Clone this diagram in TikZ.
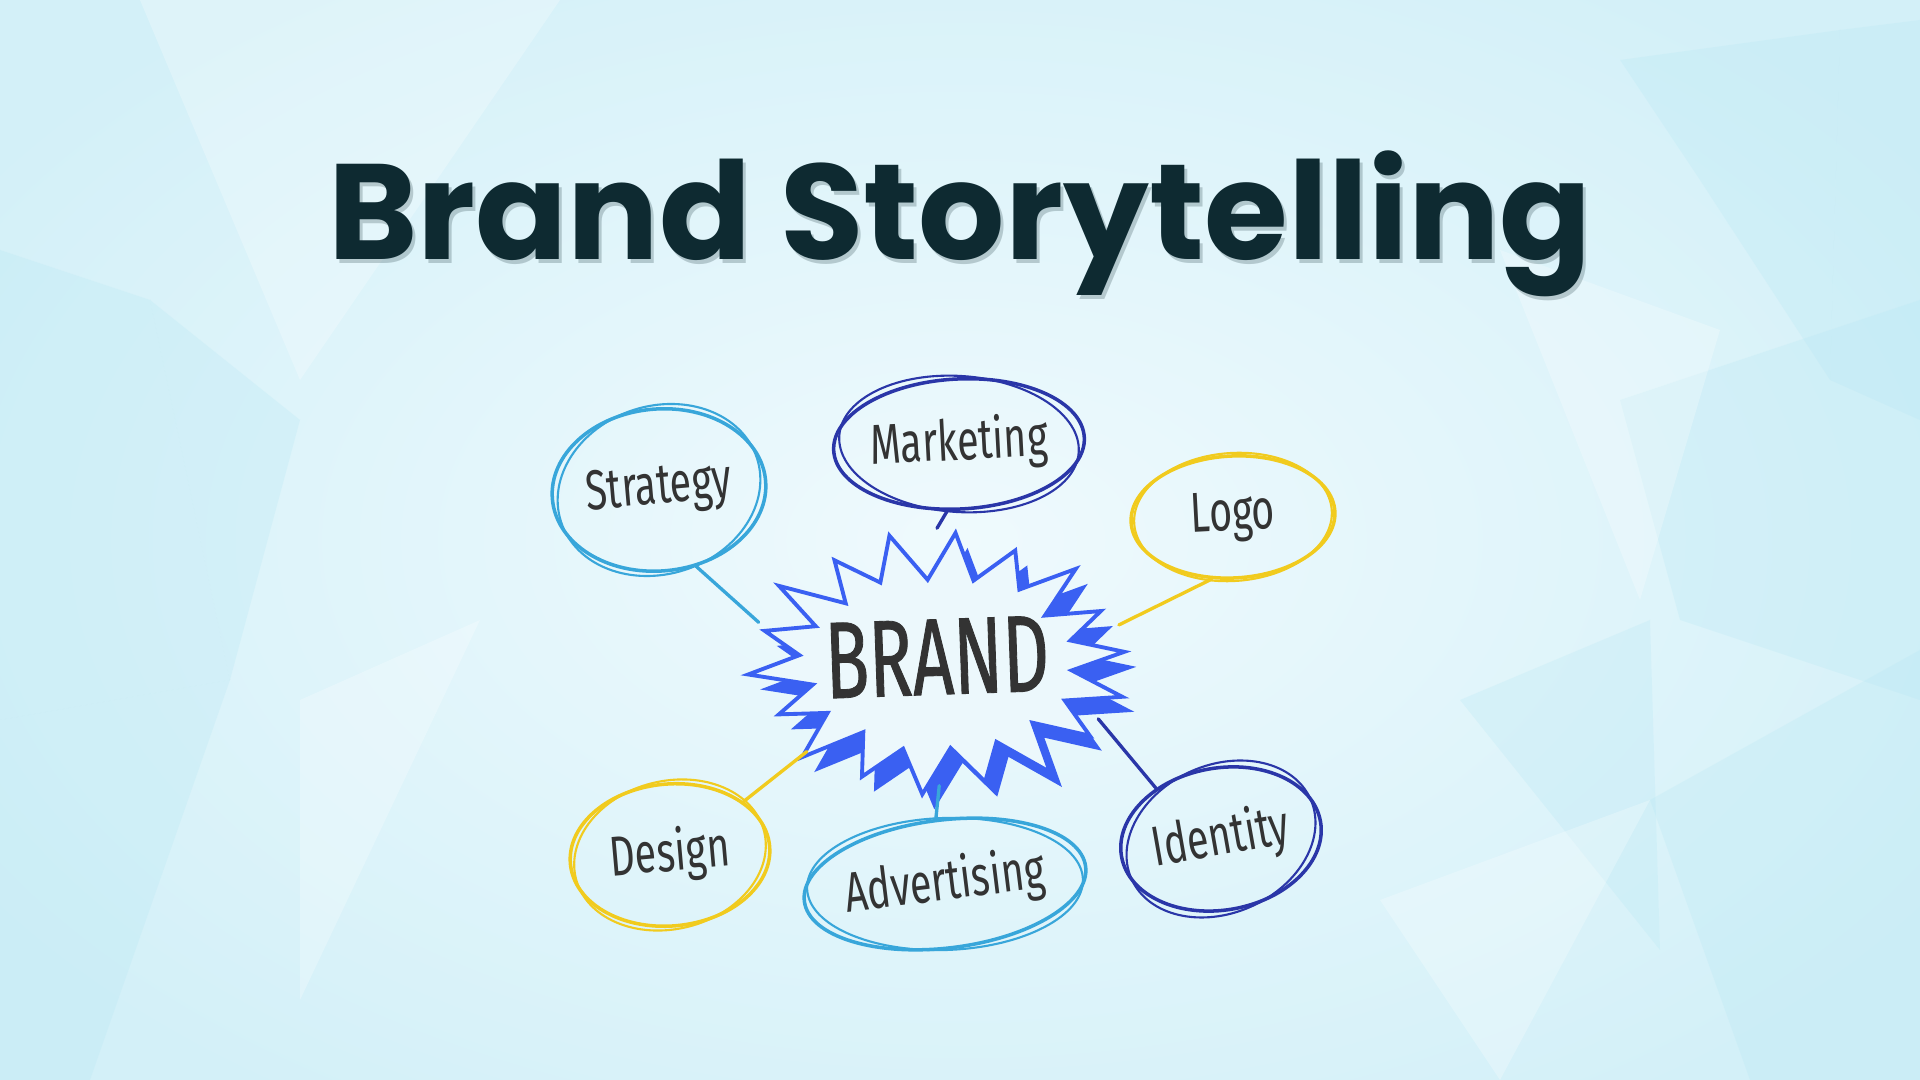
\documentclass[tikz,border=0pt]{standalone}
\usepackage{fontspec}
\usetikzlibrary{shapes.geometric}
\newfontfamily\titlefont{Poppins}
\newfontfamily\handfont[FakeStretch=0.7]{Fira Sans}
\newfontfamily\brandfont[FakeStretch=0.66,FakeBold=0.8]{Fira Sans}
\definecolor{bgmid}{HTML}{EFFAFD}
\definecolor{bgedge}{HTML}{D3F0F8}
\definecolor{facetcol}{HTML}{B5E7F4}
\definecolor{titlecol}{HTML}{0E2A31}
\definecolor{skyline}{HTML}{38A6DA}
\definecolor{navyline}{HTML}{2A36A8}
\definecolor{goldline}{HTML}{F1CB1E}
\definecolor{starblue}{HTML}{3A60F2}
\definecolor{inkcol}{HTML}{333333}
\definecolor{starfill}{HTML}{ECF8FC}
\newdimen\pxu \pxu=0.01cm
\newcommand\starpathB{({939+186*cos(5)},{663-128*sin(5)}) \foreach \k/\f/\g in {0/1.00/1.0,1/0.96/0.95,2/1.04/1.03,3/0.97/0.98,4/1.02/0.96,5/1.03/1.02,6/0.98/0.97,7/1.05/1.0,8/0.97/1.03,9/1.03/0.96,10/0.95/1.0,11/1.04/0.97,12/0.98/1.02,13/1.03/0.98,14/0.96/1.0,15/1.04/0.97,16/0.99/1.02,17/1.02/0.98} { -- ({939+186*\f*cos(\k*20+5)},{663-128*\f*sin(\k*20+5)}) -- ({939+136*\g*cos(\k*20+15)},{663-87*\g*sin(\k*20+15)}) } -- cycle}
\tikzset{
  bubble/.style={ellipse, draw, line width=1pt, inner sep=0pt, font=\handfont\fontsize{16}{16}\selectfont, text=inkcol},
  link/.style={line width=0.95pt, line cap=round},
  sketch/.style={line width=0.6pt},
  facet/.style={fill=facetcol, fill opacity=0.25},
  facetw/.style={fill=white, fill opacity=0.25},
}
\begin{document}
\begin{tikzpicture}[x=0.01cm,y=-0.01cm]
\useasboundingbox (0,0) rectangle (1920,1080);
\shade[inner color=bgmid, outer color=bgedge] (-200,-150) rectangle (2120,1230);
% low-poly facets
\fill[facet] (0,250) -- (150,300) -- (230,680) -- (0,720) -- cycle;
\fill[facetw] (140,0) -- (560,0) -- (300,380) -- cycle;
\fill[facet] (0,720) -- (230,680) -- (90,1080) -- (0,1080) -- cycle;
\fill[facet] (150,300) -- (300,420) -- (230,680) -- cycle;
\fill[facetw] (300,700) -- (480,620) -- (300,1000) -- cycle;
\fill[facet] (1840,30) -- (1920,20) -- (1920,420) -- (1830,380) -- cycle;
\fill[facet] (1620,60) -- (1840,30) -- (1830,380) -- (1700,180) -- cycle;
\fill[facet] (1620,400) -- (1920,300) -- (1920,700) -- (1680,620) -- cycle;
\fill[facetw] (1500,250) -- (1720,330) -- (1640,600) -- cycle;
\fill[facet] (1650,800) -- (1920,650) -- (1920,1080) -- (1750,1080) -- cycle;
\fill[facet] (1460,700) -- (1650,620) -- (1660,950) -- cycle;
\fill[facetw] (1380,900) -- (1650,800) -- (1500,1080) -- cycle;
% title
\node[font=\titlefont\bfseries\fontsize{38.6}{38.6}\selectfont, text=titlecol, text opacity=0.22, anchor=base] (titleshadow) at (963,264) {Brand Storytelling};
\node[font=\titlefont\bfseries\fontsize{38.6}{38.6}\selectfont, text=titlecol, anchor=base] (title) at (960,260) {Brand Storytelling};
% starburst
\fill[starblue, shift={(12,15)}] \starpathB;
\filldraw[fill=starfill, draw=starblue, line width=1.1pt, line join=miter] \starpathB;
\node[ellipse, minimum width=372\pxu, minimum height=256\pxu, inner sep=0pt, font=\brandfont\fontsize{31}{31}\selectfont, text=inkcol, rotate=2] (brand) at (937,657) {BRAND};
% bubbles
\node[bubble, draw=skyline, minimum width=214\pxu, minimum height=162\pxu, rotate=5] (strategy) at (659,490) {Strategy};
\node[bubble, draw=navyline, minimum width=248\pxu, minimum height=130\pxu, rotate=3] (marketing) at (959,444) {Marketing};
\node[bubble, draw=goldline, minimum width=204\pxu, minimum height=122\pxu, rotate=3] (logo) at (1233,517) {Logo};
\node[bubble, draw=goldline, minimum width=200\pxu, minimum height=142\pxu, rotate=5] (design) at (670,855) {Design};
\node[bubble, draw=skyline, minimum width=282\pxu, minimum height=128\pxu, rotate=7] (advertising) at (945,884) {Advertising};
\node[bubble, draw=navyline, minimum width=202\pxu, minimum height=142\pxu, rotate=10] (identity) at (1221,839) {Identity};
% sketchy second strokes
\draw[sketch, skyline] (strategy.center) ellipse[x radius=103\pxu, y radius=84\pxu, rotate=18];
\draw[sketch, navyline] (marketing.center) ellipse[x radius=120\pxu, y radius=68\pxu, rotate=-4];
\draw[sketch, goldline] (logo.center) ellipse[x radius=99\pxu, y radius=64\pxu, rotate=4];
\draw[sketch, goldline] (design.center) ellipse[x radius=97\pxu, y radius=74\pxu, rotate=14];
\draw[sketch, skyline] (advertising.center) ellipse[x radius=138\pxu, y radius=66\pxu, rotate=2];
\draw[sketch, navyline] (identity.center) ellipse[x radius=98\pxu, y radius=74\pxu, rotate=24];
% connectors
\draw[link, skyline] (strategy.-69) -- (brand.167.5);
\draw[link, navyline] (marketing.-103) -- (brand.88);
\draw[link, goldline] (logo.-112) -- (brand.8.7);
\draw[link, goldline] (design.31) -- (brand.214.7);
\draw[link, skyline] (advertising.91) -- (brand.269);
\draw[link, navyline] (identity.132.5) -- (brand.-23.4);
\end{tikzpicture}
\end{document}
